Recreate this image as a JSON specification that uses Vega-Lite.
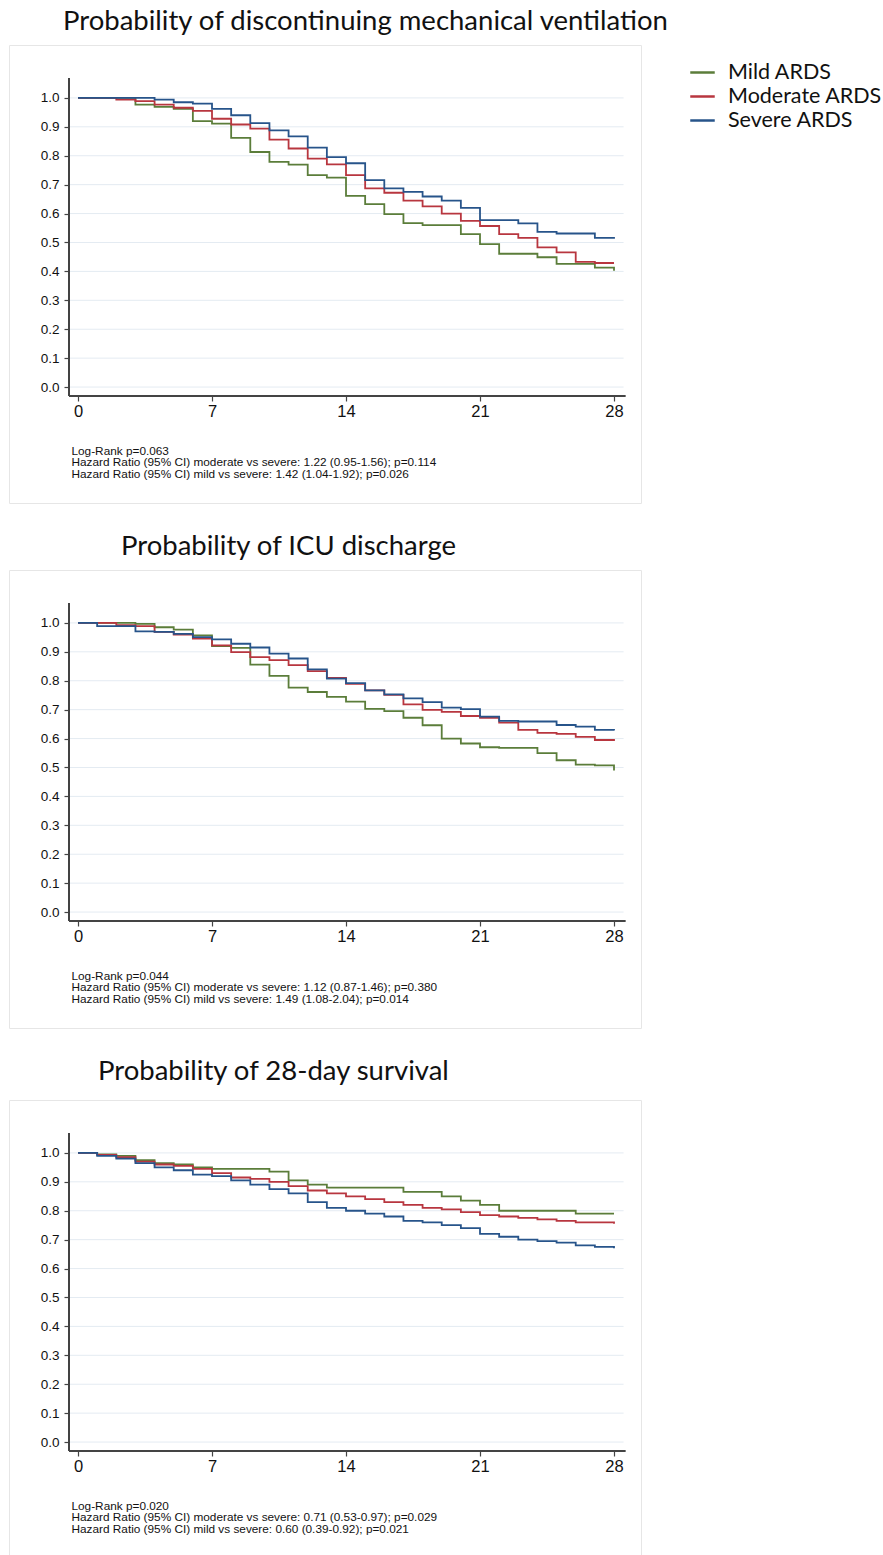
{
  "$schema": "https://vega.github.io/schema/vega-lite/v6.json",
  "background": "white",
  "padding": {"left": 8, "top": 7, "right": 0, "bottom": 0},
  "spacing": 28,
  "datasets": {
    "grid": [{"v": 0}, {"v": 0.1}, {"v": 0.2}, {"v": 0.3}, {"v": 0.4}, {"v": 0.5}, {"v": 0.6}, {"v": 0.7}, {"v": 0.8}, {"v": 0.9}, {"v": 1.0}],
    "km": [
      {"panel": 1, "group": "Mild ARDS", "day": 0, "surv": 1}, {"panel": 1, "group": "Mild ARDS", "day": 1, "surv": 1}, {"panel": 1, "group": "Mild ARDS", "day": 2, "surv": 1}, {"panel": 1, "group": "Mild ARDS", "day": 3, "surv": 0.977}, {"panel": 1, "group": "Mild ARDS", "day": 4, "surv": 0.969}, {"panel": 1, "group": "Mild ARDS", "day": 5, "surv": 0.962}, {"panel": 1, "group": "Mild ARDS", "day": 6, "surv": 0.92}, {"panel": 1, "group": "Mild ARDS", "day": 7, "surv": 0.911}, {"panel": 1, "group": "Mild ARDS", "day": 8, "surv": 0.862}, {"panel": 1, "group": "Mild ARDS", "day": 9, "surv": 0.813}, {"panel": 1, "group": "Mild ARDS", "day": 10, "surv": 0.779}, {"panel": 1, "group": "Mild ARDS", "day": 11, "surv": 0.769}, {"panel": 1, "group": "Mild ARDS", "day": 12, "surv": 0.733}, {"panel": 1, "group": "Mild ARDS", "day": 13, "surv": 0.724}, {"panel": 1, "group": "Mild ARDS", "day": 14, "surv": 0.661}, {"panel": 1, "group": "Mild ARDS", "day": 15, "surv": 0.633}, {"panel": 1, "group": "Mild ARDS", "day": 16, "surv": 0.598}, {"panel": 1, "group": "Mild ARDS", "day": 17, "surv": 0.567}, {"panel": 1, "group": "Mild ARDS", "day": 18, "surv": 0.56}, {"panel": 1, "group": "Mild ARDS", "day": 19, "surv": 0.56}, {"panel": 1, "group": "Mild ARDS", "day": 20, "surv": 0.529}, {"panel": 1, "group": "Mild ARDS", "day": 21, "surv": 0.494}, {"panel": 1, "group": "Mild ARDS", "day": 22, "surv": 0.461}, {"panel": 1, "group": "Mild ARDS", "day": 23, "surv": 0.461}, {"panel": 1, "group": "Mild ARDS", "day": 24, "surv": 0.449}, {"panel": 1, "group": "Mild ARDS", "day": 25, "surv": 0.426}, {"panel": 1, "group": "Mild ARDS", "day": 26, "surv": 0.426}, {"panel": 1, "group": "Mild ARDS", "day": 27, "surv": 0.413}, {"panel": 1, "group": "Mild ARDS", "day": 28, "surv": 0.402},
      {"panel": 1, "group": "Moderate ARDS", "day": 0, "surv": 1}, {"panel": 1, "group": "Moderate ARDS", "day": 1, "surv": 1}, {"panel": 1, "group": "Moderate ARDS", "day": 2, "surv": 0.994}, {"panel": 1, "group": "Moderate ARDS", "day": 3, "surv": 0.989}, {"panel": 1, "group": "Moderate ARDS", "day": 4, "surv": 0.977}, {"panel": 1, "group": "Moderate ARDS", "day": 5, "surv": 0.966}, {"panel": 1, "group": "Moderate ARDS", "day": 6, "surv": 0.955}, {"panel": 1, "group": "Moderate ARDS", "day": 7, "surv": 0.928}, {"panel": 1, "group": "Moderate ARDS", "day": 8, "surv": 0.908}, {"panel": 1, "group": "Moderate ARDS", "day": 9, "surv": 0.894}, {"panel": 1, "group": "Moderate ARDS", "day": 10, "surv": 0.856}, {"panel": 1, "group": "Moderate ARDS", "day": 11, "surv": 0.825}, {"panel": 1, "group": "Moderate ARDS", "day": 12, "surv": 0.79}, {"panel": 1, "group": "Moderate ARDS", "day": 13, "surv": 0.77}, {"panel": 1, "group": "Moderate ARDS", "day": 14, "surv": 0.733}, {"panel": 1, "group": "Moderate ARDS", "day": 15, "surv": 0.687}, {"panel": 1, "group": "Moderate ARDS", "day": 16, "surv": 0.672}, {"panel": 1, "group": "Moderate ARDS", "day": 17, "surv": 0.645}, {"panel": 1, "group": "Moderate ARDS", "day": 18, "surv": 0.625}, {"panel": 1, "group": "Moderate ARDS", "day": 19, "surv": 0.6}, {"panel": 1, "group": "Moderate ARDS", "day": 20, "surv": 0.575}, {"panel": 1, "group": "Moderate ARDS", "day": 21, "surv": 0.557}, {"panel": 1, "group": "Moderate ARDS", "day": 22, "surv": 0.529}, {"panel": 1, "group": "Moderate ARDS", "day": 23, "surv": 0.516}, {"panel": 1, "group": "Moderate ARDS", "day": 24, "surv": 0.483}, {"panel": 1, "group": "Moderate ARDS", "day": 25, "surv": 0.466}, {"panel": 1, "group": "Moderate ARDS", "day": 26, "surv": 0.433}, {"panel": 1, "group": "Moderate ARDS", "day": 27, "surv": 0.429}, {"panel": 1, "group": "Moderate ARDS", "day": 28, "surv": 0.429},
      {"panel": 1, "group": "Severe ARDS", "day": 0, "surv": 1}, {"panel": 1, "group": "Severe ARDS", "day": 1, "surv": 1}, {"panel": 1, "group": "Severe ARDS", "day": 2, "surv": 1}, {"panel": 1, "group": "Severe ARDS", "day": 3, "surv": 1}, {"panel": 1, "group": "Severe ARDS", "day": 4, "surv": 0.994}, {"panel": 1, "group": "Severe ARDS", "day": 5, "surv": 0.985}, {"panel": 1, "group": "Severe ARDS", "day": 6, "surv": 0.98}, {"panel": 1, "group": "Severe ARDS", "day": 7, "surv": 0.962}, {"panel": 1, "group": "Severe ARDS", "day": 8, "surv": 0.94}, {"panel": 1, "group": "Severe ARDS", "day": 9, "surv": 0.913}, {"panel": 1, "group": "Severe ARDS", "day": 10, "surv": 0.888}, {"panel": 1, "group": "Severe ARDS", "day": 11, "surv": 0.867}, {"panel": 1, "group": "Severe ARDS", "day": 12, "surv": 0.828}, {"panel": 1, "group": "Severe ARDS", "day": 13, "surv": 0.795}, {"panel": 1, "group": "Severe ARDS", "day": 14, "surv": 0.774}, {"panel": 1, "group": "Severe ARDS", "day": 15, "surv": 0.716}, {"panel": 1, "group": "Severe ARDS", "day": 16, "surv": 0.687}, {"panel": 1, "group": "Severe ARDS", "day": 17, "surv": 0.675}, {"panel": 1, "group": "Severe ARDS", "day": 18, "surv": 0.659}, {"panel": 1, "group": "Severe ARDS", "day": 19, "surv": 0.645}, {"panel": 1, "group": "Severe ARDS", "day": 20, "surv": 0.62}, {"panel": 1, "group": "Severe ARDS", "day": 21, "surv": 0.577}, {"panel": 1, "group": "Severe ARDS", "day": 22, "surv": 0.577}, {"panel": 1, "group": "Severe ARDS", "day": 23, "surv": 0.566}, {"panel": 1, "group": "Severe ARDS", "day": 24, "surv": 0.537}, {"panel": 1, "group": "Severe ARDS", "day": 25, "surv": 0.531}, {"panel": 1, "group": "Severe ARDS", "day": 26, "surv": 0.531}, {"panel": 1, "group": "Severe ARDS", "day": 27, "surv": 0.516}, {"panel": 1, "group": "Severe ARDS", "day": 28, "surv": 0.513},
      {"panel": 2, "group": "Mild ARDS", "day": 0, "surv": 1}, {"panel": 2, "group": "Mild ARDS", "day": 1, "surv": 1}, {"panel": 2, "group": "Mild ARDS", "day": 2, "surv": 1}, {"panel": 2, "group": "Mild ARDS", "day": 3, "surv": 0.997}, {"panel": 2, "group": "Mild ARDS", "day": 4, "surv": 0.985}, {"panel": 2, "group": "Mild ARDS", "day": 5, "surv": 0.977}, {"panel": 2, "group": "Mild ARDS", "day": 6, "surv": 0.957}, {"panel": 2, "group": "Mild ARDS", "day": 7, "surv": 0.92}, {"panel": 2, "group": "Mild ARDS", "day": 8, "surv": 0.914}, {"panel": 2, "group": "Mild ARDS", "day": 9, "surv": 0.856}, {"panel": 2, "group": "Mild ARDS", "day": 10, "surv": 0.817}, {"panel": 2, "group": "Mild ARDS", "day": 11, "surv": 0.776}, {"panel": 2, "group": "Mild ARDS", "day": 12, "surv": 0.761}, {"panel": 2, "group": "Mild ARDS", "day": 13, "surv": 0.744}, {"panel": 2, "group": "Mild ARDS", "day": 14, "surv": 0.728}, {"panel": 2, "group": "Mild ARDS", "day": 15, "surv": 0.703}, {"panel": 2, "group": "Mild ARDS", "day": 16, "surv": 0.695}, {"panel": 2, "group": "Mild ARDS", "day": 17, "surv": 0.672}, {"panel": 2, "group": "Mild ARDS", "day": 18, "surv": 0.646}, {"panel": 2, "group": "Mild ARDS", "day": 19, "surv": 0.6}, {"panel": 2, "group": "Mild ARDS", "day": 20, "surv": 0.583}, {"panel": 2, "group": "Mild ARDS", "day": 21, "surv": 0.57}, {"panel": 2, "group": "Mild ARDS", "day": 22, "surv": 0.568}, {"panel": 2, "group": "Mild ARDS", "day": 23, "surv": 0.568}, {"panel": 2, "group": "Mild ARDS", "day": 24, "surv": 0.55}, {"panel": 2, "group": "Mild ARDS", "day": 25, "surv": 0.525}, {"panel": 2, "group": "Mild ARDS", "day": 26, "surv": 0.51}, {"panel": 2, "group": "Mild ARDS", "day": 27, "surv": 0.507}, {"panel": 2, "group": "Mild ARDS", "day": 28, "surv": 0.49},
      {"panel": 2, "group": "Moderate ARDS", "day": 0, "surv": 1}, {"panel": 2, "group": "Moderate ARDS", "day": 1, "surv": 1}, {"panel": 2, "group": "Moderate ARDS", "day": 2, "surv": 0.992}, {"panel": 2, "group": "Moderate ARDS", "day": 3, "surv": 0.989}, {"panel": 2, "group": "Moderate ARDS", "day": 4, "surv": 0.969}, {"panel": 2, "group": "Moderate ARDS", "day": 5, "surv": 0.96}, {"panel": 2, "group": "Moderate ARDS", "day": 6, "surv": 0.946}, {"panel": 2, "group": "Moderate ARDS", "day": 7, "surv": 0.922}, {"panel": 2, "group": "Moderate ARDS", "day": 8, "surv": 0.899}, {"panel": 2, "group": "Moderate ARDS", "day": 9, "surv": 0.882}, {"panel": 2, "group": "Moderate ARDS", "day": 10, "surv": 0.871}, {"panel": 2, "group": "Moderate ARDS", "day": 11, "surv": 0.854}, {"panel": 2, "group": "Moderate ARDS", "day": 12, "surv": 0.833}, {"panel": 2, "group": "Moderate ARDS", "day": 13, "surv": 0.81}, {"panel": 2, "group": "Moderate ARDS", "day": 14, "surv": 0.789}, {"panel": 2, "group": "Moderate ARDS", "day": 15, "surv": 0.767}, {"panel": 2, "group": "Moderate ARDS", "day": 16, "surv": 0.751}, {"panel": 2, "group": "Moderate ARDS", "day": 17, "surv": 0.718}, {"panel": 2, "group": "Moderate ARDS", "day": 18, "surv": 0.699}, {"panel": 2, "group": "Moderate ARDS", "day": 19, "surv": 0.692}, {"panel": 2, "group": "Moderate ARDS", "day": 20, "surv": 0.678}, {"panel": 2, "group": "Moderate ARDS", "day": 21, "surv": 0.672}, {"panel": 2, "group": "Moderate ARDS", "day": 22, "surv": 0.655}, {"panel": 2, "group": "Moderate ARDS", "day": 23, "surv": 0.63}, {"panel": 2, "group": "Moderate ARDS", "day": 24, "surv": 0.62}, {"panel": 2, "group": "Moderate ARDS", "day": 25, "surv": 0.616}, {"panel": 2, "group": "Moderate ARDS", "day": 26, "surv": 0.606}, {"panel": 2, "group": "Moderate ARDS", "day": 27, "surv": 0.595}, {"panel": 2, "group": "Moderate ARDS", "day": 28, "surv": 0.592},
      {"panel": 2, "group": "Severe ARDS", "day": 0, "surv": 1}, {"panel": 2, "group": "Severe ARDS", "day": 1, "surv": 0.989}, {"panel": 2, "group": "Severe ARDS", "day": 2, "surv": 0.989}, {"panel": 2, "group": "Severe ARDS", "day": 3, "surv": 0.971}, {"panel": 2, "group": "Severe ARDS", "day": 4, "surv": 0.969}, {"panel": 2, "group": "Severe ARDS", "day": 5, "surv": 0.962}, {"panel": 2, "group": "Severe ARDS", "day": 6, "surv": 0.951}, {"panel": 2, "group": "Severe ARDS", "day": 7, "surv": 0.943}, {"panel": 2, "group": "Severe ARDS", "day": 8, "surv": 0.928}, {"panel": 2, "group": "Severe ARDS", "day": 9, "surv": 0.915}, {"panel": 2, "group": "Severe ARDS", "day": 10, "surv": 0.894}, {"panel": 2, "group": "Severe ARDS", "day": 11, "surv": 0.877}, {"panel": 2, "group": "Severe ARDS", "day": 12, "surv": 0.839}, {"panel": 2, "group": "Severe ARDS", "day": 13, "surv": 0.807}, {"panel": 2, "group": "Severe ARDS", "day": 14, "surv": 0.792}, {"panel": 2, "group": "Severe ARDS", "day": 15, "surv": 0.767}, {"panel": 2, "group": "Severe ARDS", "day": 16, "surv": 0.753}, {"panel": 2, "group": "Severe ARDS", "day": 17, "surv": 0.739}, {"panel": 2, "group": "Severe ARDS", "day": 18, "surv": 0.726}, {"panel": 2, "group": "Severe ARDS", "day": 19, "surv": 0.707}, {"panel": 2, "group": "Severe ARDS", "day": 20, "surv": 0.702}, {"panel": 2, "group": "Severe ARDS", "day": 21, "surv": 0.676}, {"panel": 2, "group": "Severe ARDS", "day": 22, "surv": 0.661}, {"panel": 2, "group": "Severe ARDS", "day": 23, "surv": 0.659}, {"panel": 2, "group": "Severe ARDS", "day": 24, "surv": 0.659}, {"panel": 2, "group": "Severe ARDS", "day": 25, "surv": 0.647}, {"panel": 2, "group": "Severe ARDS", "day": 26, "surv": 0.641}, {"panel": 2, "group": "Severe ARDS", "day": 27, "surv": 0.63}, {"panel": 2, "group": "Severe ARDS", "day": 28, "surv": 0.628},
      {"panel": 3, "group": "Mild ARDS", "day": 0, "surv": 1}, {"panel": 3, "group": "Mild ARDS", "day": 1, "surv": 0.995}, {"panel": 3, "group": "Mild ARDS", "day": 2, "surv": 0.99}, {"panel": 3, "group": "Mild ARDS", "day": 3, "surv": 0.975}, {"panel": 3, "group": "Mild ARDS", "day": 4, "surv": 0.965}, {"panel": 3, "group": "Mild ARDS", "day": 5, "surv": 0.96}, {"panel": 3, "group": "Mild ARDS", "day": 6, "surv": 0.95}, {"panel": 3, "group": "Mild ARDS", "day": 7, "surv": 0.945}, {"panel": 3, "group": "Mild ARDS", "day": 8, "surv": 0.945}, {"panel": 3, "group": "Mild ARDS", "day": 9, "surv": 0.945}, {"panel": 3, "group": "Mild ARDS", "day": 10, "surv": 0.935}, {"panel": 3, "group": "Mild ARDS", "day": 11, "surv": 0.905}, {"panel": 3, "group": "Mild ARDS", "day": 12, "surv": 0.89}, {"panel": 3, "group": "Mild ARDS", "day": 13, "surv": 0.88}, {"panel": 3, "group": "Mild ARDS", "day": 14, "surv": 0.88}, {"panel": 3, "group": "Mild ARDS", "day": 15, "surv": 0.88}, {"panel": 3, "group": "Mild ARDS", "day": 16, "surv": 0.88}, {"panel": 3, "group": "Mild ARDS", "day": 17, "surv": 0.865}, {"panel": 3, "group": "Mild ARDS", "day": 18, "surv": 0.865}, {"panel": 3, "group": "Mild ARDS", "day": 19, "surv": 0.85}, {"panel": 3, "group": "Mild ARDS", "day": 20, "surv": 0.835}, {"panel": 3, "group": "Mild ARDS", "day": 21, "surv": 0.82}, {"panel": 3, "group": "Mild ARDS", "day": 22, "surv": 0.8}, {"panel": 3, "group": "Mild ARDS", "day": 23, "surv": 0.8}, {"panel": 3, "group": "Mild ARDS", "day": 24, "surv": 0.8}, {"panel": 3, "group": "Mild ARDS", "day": 25, "surv": 0.8}, {"panel": 3, "group": "Mild ARDS", "day": 26, "surv": 0.79}, {"panel": 3, "group": "Mild ARDS", "day": 27, "surv": 0.79}, {"panel": 3, "group": "Mild ARDS", "day": 28, "surv": 0.79},
      {"panel": 3, "group": "Moderate ARDS", "day": 0, "surv": 1}, {"panel": 3, "group": "Moderate ARDS", "day": 1, "surv": 0.993}, {"panel": 3, "group": "Moderate ARDS", "day": 2, "surv": 0.985}, {"panel": 3, "group": "Moderate ARDS", "day": 3, "surv": 0.97}, {"panel": 3, "group": "Moderate ARDS", "day": 4, "surv": 0.96}, {"panel": 3, "group": "Moderate ARDS", "day": 5, "surv": 0.955}, {"panel": 3, "group": "Moderate ARDS", "day": 6, "surv": 0.945}, {"panel": 3, "group": "Moderate ARDS", "day": 7, "surv": 0.93}, {"panel": 3, "group": "Moderate ARDS", "day": 8, "surv": 0.915}, {"panel": 3, "group": "Moderate ARDS", "day": 9, "surv": 0.91}, {"panel": 3, "group": "Moderate ARDS", "day": 10, "surv": 0.9}, {"panel": 3, "group": "Moderate ARDS", "day": 11, "surv": 0.885}, {"panel": 3, "group": "Moderate ARDS", "day": 12, "surv": 0.87}, {"panel": 3, "group": "Moderate ARDS", "day": 13, "surv": 0.86}, {"panel": 3, "group": "Moderate ARDS", "day": 14, "surv": 0.85}, {"panel": 3, "group": "Moderate ARDS", "day": 15, "surv": 0.84}, {"panel": 3, "group": "Moderate ARDS", "day": 16, "surv": 0.83}, {"panel": 3, "group": "Moderate ARDS", "day": 17, "surv": 0.82}, {"panel": 3, "group": "Moderate ARDS", "day": 18, "surv": 0.81}, {"panel": 3, "group": "Moderate ARDS", "day": 19, "surv": 0.805}, {"panel": 3, "group": "Moderate ARDS", "day": 20, "surv": 0.795}, {"panel": 3, "group": "Moderate ARDS", "day": 21, "surv": 0.785}, {"panel": 3, "group": "Moderate ARDS", "day": 22, "surv": 0.78}, {"panel": 3, "group": "Moderate ARDS", "day": 23, "surv": 0.775}, {"panel": 3, "group": "Moderate ARDS", "day": 24, "surv": 0.77}, {"panel": 3, "group": "Moderate ARDS", "day": 25, "surv": 0.765}, {"panel": 3, "group": "Moderate ARDS", "day": 26, "surv": 0.76}, {"panel": 3, "group": "Moderate ARDS", "day": 27, "surv": 0.76}, {"panel": 3, "group": "Moderate ARDS", "day": 28, "surv": 0.755},
      {"panel": 3, "group": "Severe ARDS", "day": 0, "surv": 1}, {"panel": 3, "group": "Severe ARDS", "day": 1, "surv": 0.99}, {"panel": 3, "group": "Severe ARDS", "day": 2, "surv": 0.98}, {"panel": 3, "group": "Severe ARDS", "day": 3, "surv": 0.965}, {"panel": 3, "group": "Severe ARDS", "day": 4, "surv": 0.95}, {"panel": 3, "group": "Severe ARDS", "day": 5, "surv": 0.94}, {"panel": 3, "group": "Severe ARDS", "day": 6, "surv": 0.925}, {"panel": 3, "group": "Severe ARDS", "day": 7, "surv": 0.92}, {"panel": 3, "group": "Severe ARDS", "day": 8, "surv": 0.905}, {"panel": 3, "group": "Severe ARDS", "day": 9, "surv": 0.89}, {"panel": 3, "group": "Severe ARDS", "day": 10, "surv": 0.875}, {"panel": 3, "group": "Severe ARDS", "day": 11, "surv": 0.86}, {"panel": 3, "group": "Severe ARDS", "day": 12, "surv": 0.83}, {"panel": 3, "group": "Severe ARDS", "day": 13, "surv": 0.81}, {"panel": 3, "group": "Severe ARDS", "day": 14, "surv": 0.8}, {"panel": 3, "group": "Severe ARDS", "day": 15, "surv": 0.79}, {"panel": 3, "group": "Severe ARDS", "day": 16, "surv": 0.78}, {"panel": 3, "group": "Severe ARDS", "day": 17, "surv": 0.765}, {"panel": 3, "group": "Severe ARDS", "day": 18, "surv": 0.76}, {"panel": 3, "group": "Severe ARDS", "day": 19, "surv": 0.75}, {"panel": 3, "group": "Severe ARDS", "day": 20, "surv": 0.74}, {"panel": 3, "group": "Severe ARDS", "day": 21, "surv": 0.72}, {"panel": 3, "group": "Severe ARDS", "day": 22, "surv": 0.71}, {"panel": 3, "group": "Severe ARDS", "day": 23, "surv": 0.7}, {"panel": 3, "group": "Severe ARDS", "day": 24, "surv": 0.695}, {"panel": 3, "group": "Severe ARDS", "day": 25, "surv": 0.69}, {"panel": 3, "group": "Severe ARDS", "day": 26, "surv": 0.68}, {"panel": 3, "group": "Severe ARDS", "day": 27, "surv": 0.675}, {"panel": 3, "group": "Severe ARDS", "day": 28, "surv": 0.67}
    ]
  },
  "vconcat": [
    {
      "width": 632, "height": 458,
      "title": {"text": "Probability of discontinuing mechanical ventilation", "dx": 54},
      "layer": [
        {"data": {"name": "grid"}, "mark": {"type": "rule", "color": "#e4ebf2", "strokeWidth": 1},
         "encoding": {"y": {"field": "v", "type": "quantitative"}, "x": {"datum": -0.47, "type": "quantitative"}, "x2": {"datum": 28.5}}},
        {"data": {"name": "grid"}, "mark": {"type": "rule", "color": "#444", "strokeWidth": 1.3},
         "encoding": {"x": {"datum": -0.47, "type": "quantitative"}, "y": {"datum": -0.031, "type": "quantitative"}, "y2": {"datum": 1.069}}},
        {"data": {"name": "grid"}, "mark": {"type": "rule", "color": "#444", "strokeWidth": 1.3},
         "encoding": {"y": {"datum": -0.031, "type": "quantitative"}, "x": {"datum": -0.47, "type": "quantitative"}, "x2": {"datum": 28.58}}},
        {"data": {"name": "km"}, "transform": [{"filter": "datum.panel == 1"}],
         "mark": {"type": "line", "interpolate": "step-after", "strokeWidth": 1.8},
         "encoding": {
           "x": {"field": "day", "type": "quantitative", "scale": {"domain": [-3.605, 29.41], "nice": false, "zero": false}, "axis": {"orient": "bottom", "offset": -107, "values": [0, 7, 14, 21, 28], "title": ["Log-Rank p=0.063", "Hazard Ratio (95% CI) moderate vs severe: 1.22 (0.95-1.56); p=0.114", "Hazard Ratio (95% CI) mild vs severe: 1.42 (1.04-1.92); p=0.026"]}},
           "y": {"field": "surv", "type": "quantitative", "scale": {"domain": [-0.401, 1.183], "nice": false, "zero": false}, "axis": {"orient": "left", "offset": -60, "values": [0, 0.1, 0.2, 0.3, 0.4, 0.5, 0.6, 0.7, 0.8, 0.9, 1.0], "format": ".1f", "title": null}},
           "color": {"field": "group", "type": "nominal", "title": null}
         }}
      ]
    },
    {
      "width": 632, "height": 458,
      "title": {"text": "Probability of ICU discharge", "dx": 112},
      "layer": [
        {"data": {"name": "grid"}, "mark": {"type": "rule", "color": "#e4ebf2", "strokeWidth": 1},
         "encoding": {"y": {"field": "v", "type": "quantitative"}, "x": {"datum": -0.47, "type": "quantitative"}, "x2": {"datum": 28.5}}},
        {"data": {"name": "grid"}, "mark": {"type": "rule", "color": "#444", "strokeWidth": 1.3},
         "encoding": {"x": {"datum": -0.47, "type": "quantitative"}, "y": {"datum": -0.031, "type": "quantitative"}, "y2": {"datum": 1.069}}},
        {"data": {"name": "grid"}, "mark": {"type": "rule", "color": "#444", "strokeWidth": 1.3},
         "encoding": {"y": {"datum": -0.031, "type": "quantitative"}, "x": {"datum": -0.47, "type": "quantitative"}, "x2": {"datum": 28.58}}},
        {"data": {"name": "km"}, "transform": [{"filter": "datum.panel == 2"}],
         "mark": {"type": "line", "interpolate": "step-after", "strokeWidth": 1.8},
         "encoding": {
           "x": {"field": "day", "type": "quantitative", "scale": {"domain": [-3.605, 29.41], "nice": false, "zero": false}, "axis": {"orient": "bottom", "offset": -107, "values": [0, 7, 14, 21, 28], "title": ["Log-Rank p=0.044", "Hazard Ratio (95% CI) moderate vs severe: 1.12 (0.87-1.46); p=0.380", "Hazard Ratio (95% CI) mild vs severe: 1.49 (1.08-2.04); p=0.014"]}},
           "y": {"field": "surv", "type": "quantitative", "scale": {"domain": [-0.401, 1.183], "nice": false, "zero": false}, "axis": {"orient": "left", "offset": -60, "values": [0, 0.1, 0.2, 0.3, 0.4, 0.5, 0.6, 0.7, 0.8, 0.9, 1.0], "format": ".1f", "title": null}},
           "color": {"field": "group", "type": "nominal", "title": null}
         }}
      ]
    },
    {
      "width": 632, "height": 458,
      "title": {"text": "Probability of 28-day survival", "dx": 89, "offset": 15},
      "layer": [
        {"data": {"name": "grid"}, "mark": {"type": "rule", "color": "#e4ebf2", "strokeWidth": 1},
         "encoding": {"y": {"field": "v", "type": "quantitative"}, "x": {"datum": -0.47, "type": "quantitative"}, "x2": {"datum": 28.5}}},
        {"data": {"name": "grid"}, "mark": {"type": "rule", "color": "#444", "strokeWidth": 1.3},
         "encoding": {"x": {"datum": -0.47, "type": "quantitative"}, "y": {"datum": -0.031, "type": "quantitative"}, "y2": {"datum": 1.069}}},
        {"data": {"name": "grid"}, "mark": {"type": "rule", "color": "#444", "strokeWidth": 1.3},
         "encoding": {"y": {"datum": -0.031, "type": "quantitative"}, "x": {"datum": -0.47, "type": "quantitative"}, "x2": {"datum": 28.58}}},
        {"data": {"name": "km"}, "transform": [{"filter": "datum.panel == 3"}],
         "mark": {"type": "line", "interpolate": "step-after", "strokeWidth": 1.8},
         "encoding": {
           "x": {"field": "day", "type": "quantitative", "scale": {"domain": [-3.605, 29.41], "nice": false, "zero": false}, "axis": {"orient": "bottom", "offset": -107, "values": [0, 7, 14, 21, 28], "title": ["Log-Rank p=0.020", "Hazard Ratio (95% CI) moderate vs severe: 0.71 (0.53-0.97); p=0.029", "Hazard Ratio (95% CI) mild vs severe: 0.60 (0.39-0.92); p=0.021"]}},
           "y": {"field": "surv", "type": "quantitative", "scale": {"domain": [-0.401, 1.183], "nice": false, "zero": false}, "axis": {"orient": "left", "offset": -60, "values": [0, 0.1, 0.2, 0.3, 0.4, 0.5, 0.6, 0.7, 0.8, 0.9, 1.0], "format": ".1f", "title": null}},
           "color": {"field": "group", "type": "nominal", "title": null}
         }}
      ]
    }
  ],
  "resolve": {"scale": {"color": "shared"}},
  "config": {
    "view": {"stroke": "#e6e6e6", "strokeWidth": 1},
    "font": "Liberation Sans",
    "title": {"font": "Lato", "fontSize": 27.5, "fontWeight": "normal", "anchor": "start", "frame": "group", "baseline": "alphabetic", "offset": 10, "color": "#111"},
    "axis": {"domain": false, "grid": false, "tickSize": 5, "tickColor": "#444", "tickWidth": 1.2, "labelColor": "#111", "labelFont": "Liberation Sans", "labelFontSize": 14, "labelPadding": 2,
             "titleFont": "Liberation Sans", "titleFontSize": 11.8, "titleFontWeight": "normal", "titleColor": "#111", "titleAnchor": "start", "titleAlign": "left", "titleBaseline": "top", "titleLineHeight": 11.8},
    "axisX": {"labelFontSize": 16.5, "labelPadding": 2, "titleX": 62, "titleY": 49},
    "axisY": {"labelFontSize": 13.5, "labelPadding": 5},
    "range": {"category": ["#5b7d3a", "#b8363f", "#27548a"]},
    "legend": {"orient": "none", "legendX": 680, "legendY": 14, "symbolType": "stroke", "symbolSize": 600, "symbolStrokeWidth": 2.5, "labelFont": "Lato", "labelFontSize": 21.5, "labelColor": "#111", "labelOffset": 12, "rowPadding": 0, "padding": 0}
  }
}
